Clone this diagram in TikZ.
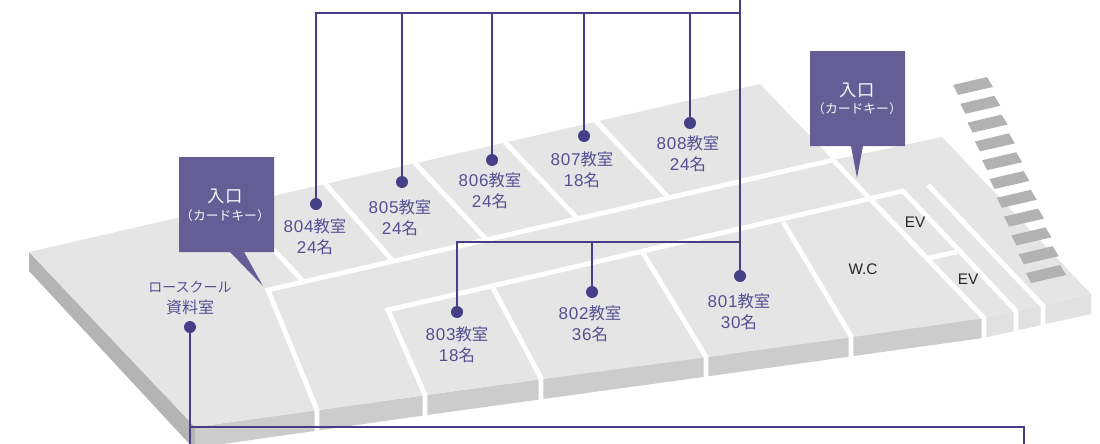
\documentclass[tikz,border=0pt]{standalone}
\usepackage{fontspec}
\setmainfont{Liberation Sans}
\newfontfamily\jp{Noto Sans CJK JP}
\newfontfamily\num[LetterSpace=4]{Liberation Sans}
\definecolor{topc}{HTML}{E5E5E5}
\definecolor{frontc}{HTML}{CBCCCB}
\definecolor{leftc}{HTML}{B4B4B4}
\definecolor{rightc}{HTML}{E0E1E0}
\definecolor{stairc}{HTML}{B2B2B2}
\definecolor{boxc}{HTML}{655E96}
\definecolor{linec}{HTML}{463F88}
\definecolor{labc}{HTML}{565093}
\newcommand{\roomlbl}[2]{{\fontsize{12.8}{15.75}\selectfont\num #1\jp\fontsize{12.3}{15.75}\selectfont 教室}\\{\fontsize{12.8}{15.75}\selectfont\num #2\jp\fontsize{12.3}{15.75}\selectfont 名}}
\tikzset{
  wall/.style={draw=white,line width=3.6pt,line join=miter},
  conn/.style={draw=linec,line width=2.2pt},
  pin/.style={circle,fill=linec,inner sep=0pt,minimum size=9pt},
  roomtext/.style={text=labc,align=center,inner sep=0pt,font=\fontsize{12}{15.75}\selectfont},
  fixt/.style={text=black!85,inner sep=0pt,font=\fontsize{11.5}{13}\selectfont},
  keybox/.style={fill=boxc},
  keytext/.style={text=white!95!boxc,align=center,inner sep=0pt},
}
\begin{document}
\begin{tikzpicture}[x=0.75pt,y=-0.75pt]
\useasboundingbox (0,0) rectangle (1100,443);
\clip (0,0) rectangle (1100,443);
% side faces
\fill[leftc] (29,252) -- (195,427) -- (195,450) -- (29,271) -- cycle;
\fill[frontc] (195,427) -- (983,318) -- (983,338) -- (703,377) -- (427,415) -- (195,448) -- cycle;
\fill[rightc] (983,318) -- (1091,294) -- (1091,314) -- (983,338) -- cycle;
% top face
\fill[topc] (29,252) -- (760,84) -- (833,160) -- (942,137) -- (1091,294) -- (1045,304) -- (985,318) -- (853,337) -- (708,357) -- (543,379) -- (427,395) -- (320,410) -- (195,427) -- cycle;
% walls
\draw[wall] (317,431) -- (317,410) -- (268,290) -- (781,172) -- (833,160);
\draw[wall] (232,205) -- (302,280);
\draw[wall] (323,181) -- (392,260);
\draw[wall] (413,161) -- (485,238);
\draw[wall] (503,140) -- (577,218);
\draw[wall] (595,120) -- (668,197);
\draw[wall] (425,416) -- (425,395) -- (388,310) -- (903,191) -- (1016,311) -- (1016,333);
\draw[wall] (493,288) -- (541,378) -- (541,400);
\draw[wall] (643,253) -- (706,357) -- (706,378);
\draw[wall] (783,222) -- (851,336) -- (851,358);
\draw[wall] (833,160) -- (984,318) -- (984,340);
\draw[wall] (928,258) -- (957,252);
\draw[wall] (928,185) -- (1043,306) -- (1043,327);
% stairs
\foreach \i in {0,...,10}{
  \fill[stairc,shift={({7.3*\i*0.75pt},{-18.8*\i*0.75pt})}] (953,85) -- (987,77) -- (993,87) -- (958,95) -- cycle;
}
% entrance boxes
\fill[keybox] (179,157) -- (274,157) -- (274,252) -- (244,252) -- (263,286) -- (230,252) -- (179,252) -- cycle;
\fill[keybox] (810,51) -- (905,51) -- (905,146) -- (863,146) -- (857,178) -- (851,146) -- (810,146) -- cycle;
\node[keytext,font=\jp\fontsize{13}{14}\selectfont] (enA) at (225,196) {入口};
\node[keytext,font=\jp\fontsize{9.6}{11}\selectfont] (cardA) at (225,216) {（カードキー）};
\node[keytext,font=\jp\fontsize{13}{14}\selectfont] (enB) at (857,90) {入口};
\node[keytext,font=\jp\fontsize{9.6}{11}\selectfont] (cardB) at (857,109) {（カードキー）};
% room texts
\node[roomtext] (r804) at (315,236.5) {\roomlbl{804}{24}};
\node[roomtext] (r805) at (400,217.5) {\roomlbl{805}{24}};
\node[roomtext] (r806) at (490,190.5) {\roomlbl{806}{24}};
\node[roomtext] (r807) at (582,169.5) {\roomlbl{807}{18}};
\node[roomtext] (r808) at (688,153.5) {\roomlbl{808}{24}};
\node[roomtext] (r803) at (457,345) {\roomlbl{803}{18}};
\node[roomtext] (r802) at (590,323.5) {\roomlbl{802}{36}};
\node[roomtext] (r801) at (739,311.5) {\roomlbl{801}{30}};
\node[roomtext] (rlaw) at (190,298) {\jp{\fontsize{10.5}{15.75}\selectfont ロースクール}\\\jp 資料室};
\node[fixt] (wc) at (863,269) {W.C};
\node[fixt] (ev1) at (915,222) {EV};
\node[fixt] (ev2) at (968,279) {EV};
% pins
\node[pin] (d804) at (316,204) {};
\node[pin] (d805) at (402,182) {};
\node[pin] (d806) at (492,160) {};
\node[pin] (d807) at (584,136) {};
\node[pin] (d808) at (690,123) {};
\node[pin] (d803) at (457,312) {};
\node[pin] (d802) at (592,292) {};
\node[pin] (d801) at (740,276) {};
\node[pin] (dlaw) at (190,327) {};
% connector junctions
\coordinate (topA) at (740,-5);
\coordinate (t804) at (316,13);
\coordinate (t805) at (402,13);
\coordinate (t806) at (492,13);
\coordinate (t807) at (584,13);
\coordinate (t808) at (690,13);
\coordinate (t801) at (740,13);
\coordinate (m803) at (457,242);
\coordinate (m802) at (592,242);
\coordinate (m801) at (740,242);
\coordinate (bL) at (190,427);
\coordinate (bD) at (190,450);
\coordinate (bR) at (1024,427);
\coordinate (bE) at (1024,450);
\draw[conn] (topA) -- (d801);
\draw[conn,line join=miter] (d804) -- (t804) -- (t801);
\draw[conn] (t805) -- (d805);
\draw[conn] (t806) -- (d806);
\draw[conn] (t807) -- (d807);
\draw[conn] (t808) -- (d808);
\draw[conn,line join=miter] (d803) -- (m803) -- (m801);
\draw[conn] (m802) -- (d802);
\draw[conn] (dlaw) -- (bD);
\draw[conn,line join=miter] (bL) -- (bR) -- (bE);
\end{tikzpicture}
\end{document}
